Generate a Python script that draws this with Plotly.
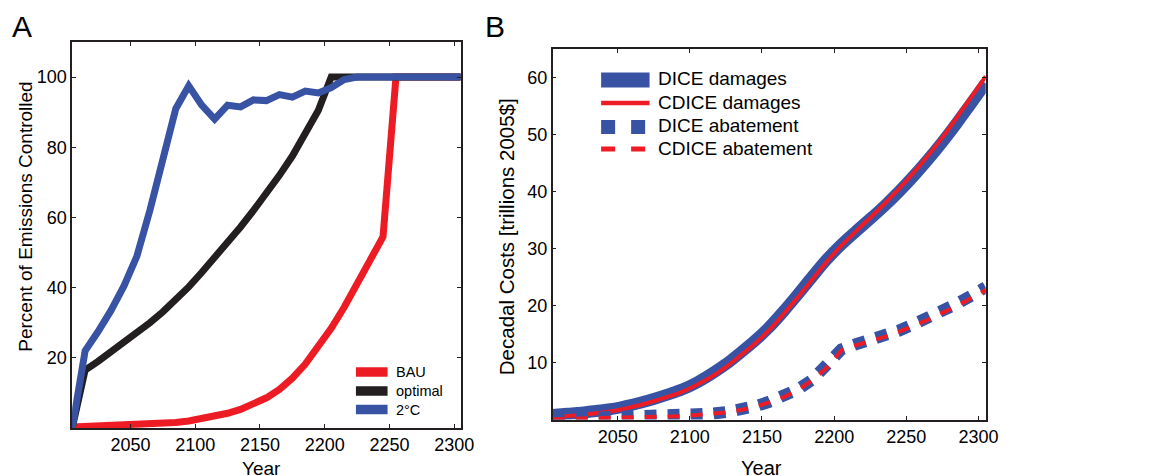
import plotly.graph_objects as go

years = [2005, 2015, 2025, 2035, 2045, 2055, 2065, 2075, 2085, 2095, 2105,
         2115, 2125, 2135, 2145, 2155, 2165, 2175, 2185, 2195, 2205,
         2215, 2225, 2235, 2245, 2255, 2265, 2275, 2285, 2295, 2305]

# Panel A: percent of emissions controlled
bau = [0.3, 0.4, 0.5, 0.6, 0.7, 0.85, 1.0, 1.25, 1.55, 2.0, 2.6,
       3.3, 4.2, 5.3, 6.7, 8.6, 11.0, 14.2, 18.2, 23.0, 28.4,
       34.4, 40.9, 47.6, 54.5, 100, 100, 100, 100, 100, 100]
optimal = [0, 16.5, 19.0, 21.6, 24.2, 27.0, 30.0, 33.1, 36.5, 40.2, 44.3,
           48.5, 52.9, 57.3, 62.0, 66.8, 72.0, 77.5, 83.6, 90.5, 100,
           100, 100, 100, 100, 100, 100, 100, 100, 100, 100]
two_c = [0, 22.0, 27.5, 33.5, 40.5, 49.0, 62.0, 76.5, 91.0, 97.5, 92.0,
         88.0, 92.0, 91.5, 93.5, 93.3, 95.0, 94.3, 96.0, 95.5, 97.0,
         99.3, 100, 100, 100, 100, 100, 100, 100, 100, 100]

# Panel B: decadal costs [trillions 2005$]
dice_damages = [0.8, 1.0, 1.2, 1.5, 1.8, 2.3, 2.9, 3.6, 4.4, 5.3, 6.5,
                8.0, 9.7, 11.7, 13.8, 16.2, 19.0, 22.0, 25.1, 28.1, 30.7,
                33.0, 35.2, 37.5, 40.0, 42.7, 45.6, 48.7, 52.0, 55.5, 59.0]
cdice_damages = [0.4, 0.6, 0.8, 1.1, 1.4, 1.9, 2.5, 3.2, 4.0, 4.9, 6.1,
                 7.5, 9.2, 11.2, 13.3, 15.7, 18.5, 21.5, 24.6, 27.7, 30.5,
                 33.0, 35.4, 37.9, 40.5, 43.3, 46.3, 49.5, 53.0, 56.6, 60.2]
dice_abatement = [0.1, 0.15, 0.2, 0.25, 0.3, 0.3, 0.35, 0.4, 0.5, 0.65, 0.85,
                  1.0, 1.3, 1.7, 2.3, 3.1, 4.0, 5.3, 7.0, 9.3, 12.3,
                  13.2, 13.9, 14.7, 15.6, 16.7, 17.8, 19.0, 20.3, 21.7, 23.2]
cdice_abatement = [0.05, 0.1, 0.15, 0.2, 0.25, 0.25, 0.3, 0.35, 0.45, 0.6, 0.8,
                   0.95, 1.25, 1.65, 2.2, 3.0, 3.9, 5.2, 6.9, 9.1, 12.1,
                   13.0, 13.7, 14.5, 15.4, 16.4, 17.5, 18.7, 19.9, 21.3, 22.7]

x_ticks = [2050, 2100, 2150, 2200, 2250, 2300]
ya_ticks = [20, 40, 60, 80, 100]
yb_ticks = [10, 20, 30, 40, 50, 60]

RED = "#ed1c24"
BLACK = "#231f20"
BLUE = "#3953a4"
FONT = "Liberation Sans, Arial, sans-serif"
W, H = 1150, 476

series_a = [
    ("BAU", bau, RED, 7),
    ("optimal", optimal, BLACK, 7),
    ("2°C", two_c, BLUE, 7),
]
series_b = [
    ("DICE damages", dice_damages, BLUE, 12, "solid", "spline"),
    ("CDICE damages", cdice_damages, RED, 4, "solid", "spline"),
    ("DICE abatement", dice_abatement, BLUE, 12, "12px,11px", "linear"),
    ("CDICE abatement", cdice_abatement, RED, 4, "12px,11px", "linear"),
]

fig = go.Figure()

for name, vals, col, wid in series_a:
    fig.add_trace(go.Scatter(x=years, y=vals, name=name, mode="lines",
                             line=dict(color=col, width=wid),
                             xaxis="x", yaxis="y", showlegend=False))
for name, vals, col, wid, dash, shape in series_b:
    fig.add_trace(go.Scatter(x=years, y=vals, name=name, mode="lines",
                             line=dict(color=col, width=wid, dash=dash, shape=shape),
                             xaxis="x2", yaxis="y2", showlegend=False))


def px_x(p):
    return p / W


def px_y(p):
    return 1 - p / H


axis_common = dict(showline=True, linecolor=BLACK, linewidth=1.5, mirror="ticks",
                   ticks="inside", ticklen=4, tickcolor=BLACK, tickwidth=1,
                   showgrid=False, zeroline=False,
                   tickfont=dict(family=FONT, size=18, color="#000000"))

shapes = []
annotations = []

# Legend of panel A (key swatches + labels)
legend_a_rows = [372, 391, 409.5]
for (name, vals, col, wid), yc in zip(series_a, legend_a_rows):
    shapes.append(dict(type="line", xref="paper", yref="paper",
                       x0=px_x(360), x1=px_x(392), y0=px_y(yc), y1=px_y(yc),
                       line=dict(color=col, width=9.5)))
    annotations.append(dict(text=name, x=px_x(398), y=px_y(yc), xref="paper", yref="paper",
                            xanchor="left", yanchor="middle", showarrow=False,
                            font=dict(family=FONT, size=14.5)))

# Legend of panel B
legend_b_rows = [80, 103, 127, 149]
legend_b_widths = [15, 4.5, 14, 5]
for (name, vals, col, wid, dash, shape), yc, lw in zip(series_b, legend_b_rows, legend_b_widths):
    shapes.append(dict(type="line", xref="paper", yref="paper",
                       x0=px_x(608), x1=px_x(652.5 if dash != "solid" else 657),
                       y0=px_y(yc), y1=px_y(yc),
                       line=dict(color=col, width=lw,
                                 dash=("14px,16px" if dash != "solid" else "solid"))))
    annotations.append(dict(text=name, x=px_x(664), y=px_y(yc - 1), xref="paper", yref="paper",
                            xanchor="left", yanchor="middle", showarrow=False,
                            font=dict(family=FONT, size=19)))

annotations += [
    dict(text="A", x=px_x(22), y=px_y(26), xref="paper", yref="paper",
         xanchor="center", yanchor="middle", showarrow=False, font=dict(family=FONT, size=30)),
    dict(text="B", x=px_x(501), y=px_y(26), xref="paper", yref="paper",
         xanchor="center", yanchor="middle", showarrow=False, font=dict(family=FONT, size=30)),
    dict(text="Percent of Emissions Controlled", x=px_x(26), y=px_y(217),
         xref="paper", yref="paper", xanchor="center", yanchor="middle",
         showarrow=False, textangle=-90, font=dict(family=FONT, size=19)),
    dict(text="Decadal Costs [trillions 2005$]", x=px_x(512), y=px_y(237),
         xref="paper", yref="paper", xanchor="center", yanchor="middle",
         showarrow=False, textangle=-90, font=dict(family=FONT, size=20.5)),
    dict(text="Year", x=px_x(264), y=px_y(468), xref="paper", yref="paper",
         xanchor="center", yanchor="middle", showarrow=False, font=dict(family=FONT, size=19)),
    dict(text="Year", x=px_x(770), y=px_y(468), xref="paper", yref="paper",
         xanchor="center", yanchor="middle", showarrow=False, font=dict(family=FONT, size=20)),
]

fig.update_layout(
    width=W, height=H,
    margin=dict(l=0, r=0, t=0, b=0),
    paper_bgcolor="white", plot_bgcolor="white",
    font=dict(family=FONT, color="#000000"),
    showlegend=False,
    xaxis=dict(domain=[px_x(73), px_x(466)], range=[2005, 2305], tickvals=x_ticks,
               anchor="y", **axis_common),
    yaxis=dict(domain=[px_y(428), px_y(42)], range=[0, 110], tickvals=ya_ticks,
               anchor="x", **axis_common),
    xaxis2=dict(domain=[px_x(559), px_x(997)], range=[2005, 2305], tickvals=x_ticks,
                anchor="y2", **axis_common),
    yaxis2=dict(domain=[px_y(419.5), px_y(49)], range=[0, 65], tickvals=yb_ticks,
                anchor="x2", **axis_common),
    shapes=shapes,
    annotations=annotations,
)

fig.write_html("out.html")
